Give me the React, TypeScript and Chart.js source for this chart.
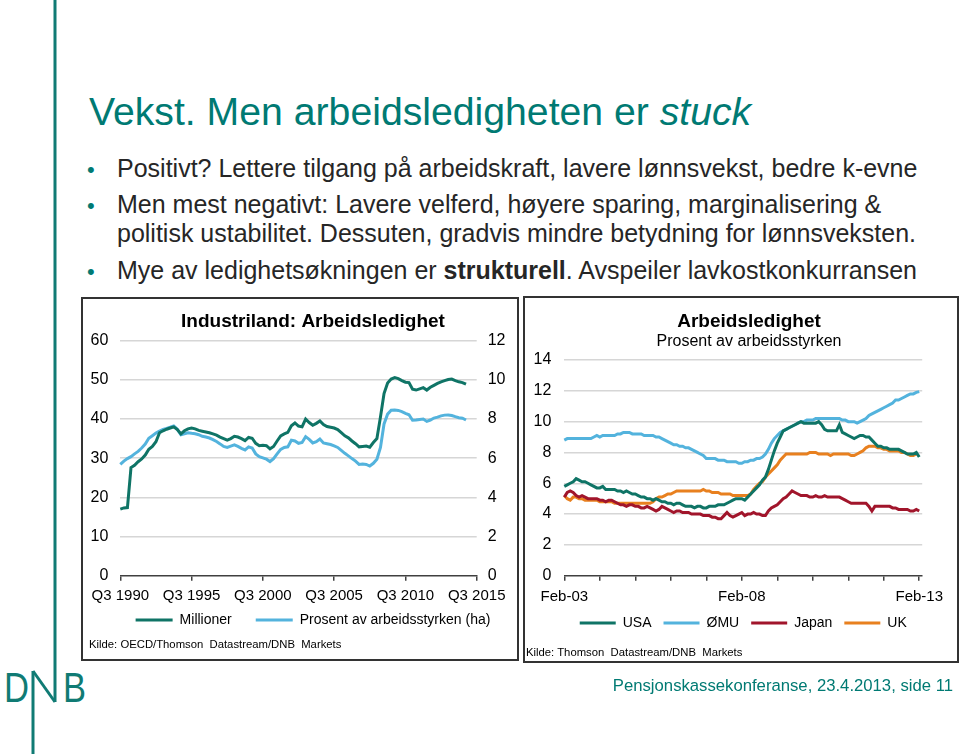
import React, { useEffect, useRef } from 'react';
import { Chart, registerables } from 'chart.js';

Chart.register(...registerables);

const FONT = "'Liberation Sans', Arial, Helvetica, sans-serif";
Chart.defaults.font.family = FONT;

const TEAL = '#0f7466';
const BLUE = '#53b3dd';
const RED = '#a1152b';
const ORANGE = '#e8801f';
const GRID = '#d6d6d6';
const AXIS = '#404040';
const SLIDE_TEAL = '#007a73';

// ---------- Left chart data ----------
const LEFT_TITLE = 'Industriland: Arbeidsledighet';
const LEFT_SERIES_NAMES = ['Millioner', 'Prosent av arbeidsstyrken (ha)'];
const LEFT_TICK_LABELS = ['Q3 1990', 'Q3 1995', 'Q3 2000', 'Q3 2005', 'Q3 2010', 'Q3 2015'];
// Millions unemployed, quarterly from Q3 1990
const MILLIONER = [
  17.0, 17.3, 17.4, 27.6, 28.2, 29.1, 29.8, 30.8, 32.3, 33.0,
  34.2, 36.5, 37.0, 37.4, 37.7, 38.0, 37.3, 36.2, 37.0, 37.5,
  37.7, 37.5, 37.1, 36.9, 36.7, 36.5, 36.2, 35.9, 35.4, 35.0,
  34.6, 35.0, 35.6, 35.4, 35.0, 34.5, 35.3, 35.1, 33.8, 33.2,
  33.3, 33.2, 32.4, 33.0, 34.4, 35.7, 36.2, 36.6, 38.3, 39.0,
  38.2, 38.0, 40.0, 39.1, 38.4, 38.9, 39.5, 38.6, 38.1, 37.9,
  37.7, 37.3, 36.5, 35.7, 35.2, 34.4, 33.7, 32.9, 33.0, 33.1,
  32.8, 34.0, 35.0, 40.5, 46.5, 49.2, 50.2, 50.6, 50.3, 49.8,
  49.4, 49.3, 47.6, 47.4, 47.7, 48.0, 47.4, 48.1, 48.6, 49.1,
  49.5, 49.8, 50.1, 50.2, 49.8, 49.5, 49.3, 48.9,
];
// Percent of labour force (right axis)
const PROSENT = [
  5.68, 5.85, 5.98, 6.08, 6.22, 6.35, 6.52, 6.72, 7.02, 7.15,
  7.28, 7.38, 7.47, 7.52, 7.58, 7.65, 7.48, 7.20, 7.25, 7.30,
  7.27, 7.25, 7.20, 7.12, 7.08, 7.03, 6.95, 6.85, 6.73, 6.60,
  6.55, 6.62, 6.68, 6.60, 6.50, 6.42, 6.58, 6.52, 6.22, 6.08,
  6.02, 5.95, 5.83, 5.98, 6.22, 6.45, 6.55, 6.58, 6.92, 6.88,
  6.76, 6.80, 7.10, 6.96, 6.78, 6.84, 6.98, 6.78, 6.74, 6.70,
  6.63, 6.55, 6.40, 6.25, 6.12, 5.98, 5.85, 5.68, 5.70, 5.68,
  5.60, 5.74, 5.95, 6.55, 7.75, 8.25, 8.45, 8.46, 8.44, 8.38,
  8.29, 8.22, 7.94, 7.95, 7.98, 8.00, 7.88, 7.95, 8.05, 8.10,
  8.16, 8.20, 8.21, 8.18, 8.12, 8.07, 8.04, 7.95,
];

// ---------- Right chart data ----------
const RIGHT_TITLE = 'Arbeidsledighet';
const RIGHT_SUBTITLE = 'Prosent av arbeidsstyrken';
const RIGHT_SERIES_NAMES = ['USA', 'ØMU', 'Japan', 'UK'];
const RIGHT_TICK_LABELS = ['Feb-03', 'Feb-08', 'Feb-13'];
const USA = [
  5.8, 5.9, 6.0, 6.1, 6.3, 6.2, 6.1, 6.1, 6.0, 5.9,
  5.8, 5.7, 5.7, 5.8, 5.6, 5.6, 5.6, 5.6, 5.5, 5.5,
  5.4, 5.5, 5.4, 5.3, 5.3, 5.2, 5.1, 5.1, 5.0, 5.0,
  4.9, 5.0, 4.9, 4.8, 4.8, 4.7, 4.7, 4.6, 4.7, 4.7,
  4.6, 4.5, 4.5, 4.5, 4.4, 4.5, 4.5, 4.4, 4.4, 4.5,
  4.5, 4.5, 4.6, 4.6, 4.6, 4.7, 4.8, 4.9, 5.0, 5.0,
  5.0, 4.9, 5.1, 5.3, 5.5, 5.7, 5.9, 6.2, 6.4, 6.9,
  7.5, 8.1, 8.6, 9.0, 9.4, 9.5, 9.6, 9.7, 9.8, 9.9,
  10.0, 9.9, 9.9, 9.9, 9.9, 9.9, 10.0, 9.8, 9.5, 9.4,
  9.4, 9.4, 9.4, 9.8, 9.3, 9.2, 9.1, 9.0, 8.9, 9.0,
  9.1, 9.1, 9.0, 9.0, 8.8, 8.6, 8.4, 8.4, 8.3, 8.3,
  8.2, 8.2, 8.2, 8.2, 8.1, 8.0, 7.9, 7.9, 7.9, 8.0,
  7.7,
];
const OMU = [
  8.8, 8.9, 8.9, 8.9, 8.9, 8.9, 8.9, 8.9, 8.9, 8.9,
  9.0, 9.1, 9.0, 9.1, 9.1, 9.1, 9.1, 9.1, 9.2, 9.2,
  9.3, 9.3, 9.3, 9.2, 9.2, 9.2, 9.2, 9.1, 9.1, 9.1,
  9.1, 9.0, 9.0, 8.9, 8.8, 8.7, 8.6, 8.5, 8.5, 8.4,
  8.4, 8.3, 8.3, 8.2, 8.1, 8.0, 7.9, 7.8, 7.6, 7.6,
  7.6, 7.6, 7.5, 7.5, 7.5, 7.4, 7.4, 7.4, 7.4, 7.3,
  7.3, 7.4, 7.4, 7.5, 7.5, 7.6, 7.6, 7.7, 7.9, 8.2,
  8.6, 8.9, 9.1, 9.3, 9.4, 9.5, 9.6, 9.7, 9.8, 9.9,
  10.0, 10.0, 10.1, 10.1, 10.1, 10.2, 10.2, 10.2, 10.2, 10.2,
  10.2, 10.2, 10.2, 10.2, 10.1, 10.1, 10.0, 10.0, 10.0, 9.9,
  10.0, 10.1, 10.2, 10.4, 10.5, 10.6, 10.7, 10.8, 10.9, 11.0,
  11.1, 11.2, 11.4, 11.4, 11.5, 11.6, 11.7, 11.8, 11.8, 11.9,
  11.95,
];
const JAPAN = [
  5.1, 5.4, 5.5, 5.4, 5.2, 5.1, 5.2, 5.1, 5.0, 5.0,
  5.0, 5.0, 4.9, 4.9, 4.8, 4.9, 4.9, 4.8, 4.7, 4.6,
  4.6, 4.5, 4.6, 4.6, 4.5, 4.5, 4.4, 4.4, 4.5, 4.4,
  4.3, 4.2, 4.3, 4.5, 4.4, 4.3, 4.2, 4.1, 4.2, 4.2,
  4.1, 4.1, 4.1, 4.0, 4.0, 4.0, 4.0, 3.9, 3.9, 3.9,
  3.8, 3.8, 3.7, 3.7, 3.9, 4.1, 3.9, 3.8, 3.9, 4.0,
  4.1, 3.9, 4.0, 4.0, 4.1, 4.0, 4.0, 3.9, 3.9, 4.2,
  4.4, 4.5, 4.6, 4.8, 5.0, 5.1, 5.3, 5.5, 5.4, 5.3,
  5.2, 5.2, 5.2, 5.1, 5.1, 5.2, 5.1, 5.1, 5.2, 5.1,
  5.1, 5.1, 5.1, 5.1, 5.0, 4.9, 4.8, 4.7, 4.7, 4.7,
  4.7, 4.7, 4.7, 4.5, 4.2, 4.5, 4.5, 4.5, 4.5, 4.5,
  4.5, 4.4, 4.4, 4.3, 4.3, 4.3, 4.3, 4.2, 4.2, 4.3,
  4.2,
];
const UK = [
  5.2, 5.0, 4.9, 5.1, 5.1, 5.0, 5.0, 4.9, 4.9, 4.9,
  4.9, 4.9, 4.8, 4.8, 4.8, 4.8, 4.8, 4.7, 4.7, 4.7,
  4.7, 4.7, 4.7, 4.7, 4.7, 4.7, 4.7, 4.7, 4.7, 4.7,
  4.8, 5.0, 5.1, 5.1, 5.2, 5.3, 5.3, 5.4, 5.5, 5.5,
  5.5, 5.5, 5.5, 5.5, 5.5, 5.5, 5.5, 5.6, 5.5, 5.5,
  5.4, 5.4, 5.4, 5.3, 5.3, 5.3, 5.3, 5.2, 5.2, 5.2,
  5.2, 5.2, 5.2, 5.3, 5.6, 5.8, 6.0, 6.1, 6.4, 6.6,
  6.8, 7.0, 7.2, 7.5, 7.7, 7.9, 7.9, 7.9, 7.9, 7.9,
  7.9, 7.9, 7.9, 8.0, 8.0, 8.0, 7.9, 7.9, 7.9, 7.9,
  7.8, 7.9, 7.9, 7.9, 7.9, 7.9, 7.9, 7.8, 7.8, 7.9,
  8.0, 8.1, 8.3, 8.4, 8.4, 8.4, 8.3, 8.3, 8.2, 8.2,
  8.1, 8.1, 8.1, 8.1, 8.0, 8.0, 7.9, 7.8, 7.8, 7.9,
];

// Category labels
const QUARTERS: string[] = [];
for (let i = 0; i <= 100; i++) {
  const t = 1990 * 4 + 2 + i;
  QUARTERS.push(`Q${(t % 4) + 1} ${Math.floor(t / 4)}`);
}
const MONTH_NAMES = ['Jan', 'Feb', 'Mar', 'Apr', 'May', 'Jun', 'Jul', 'Aug', 'Sep', 'Oct', 'Nov', 'Dec'];
const MONTHS: string[] = [];
for (let i = 0; i <= 121; i++) {
  const m = 1 + i;
  const yy = 3 + Math.floor(m / 12);
  MONTHS.push(`${MONTH_NAMES[m % 12]}-${String(yy).padStart(2, '0')}`);
}

const legendLabels = (chart: any) =>
  Chart.defaults.plugins.legend.labels.generateLabels(chart).map((l: any) => ({
    ...l,
    fillStyle: l.strokeStyle,
    lineWidth: 0,
  }));

const lineDs = (label: string, data: (number | null)[], color: string, axis: string) => ({
  label,
  data,
  borderColor: color,
  backgroundColor: color,
  borderWidth: 3,
  pointRadius: 0,
  tension: 0,
  yAxisID: axis,
});

function LeftChart() {
  const ref = useRef<HTMLCanvasElement>(null);
  useEffect(() => {
    const chart = new Chart(ref.current as HTMLCanvasElement, {
      type: 'line',
      data: {
        labels: QUARTERS,
        datasets: [
          lineDs(LEFT_SERIES_NAMES[0], MILLIONER, TEAL, 'y'),
          lineDs(LEFT_SERIES_NAMES[1], PROSENT, BLUE, 'y1'),
        ],
      },
      options: {
        responsive: false,
        animation: false,
        events: [],
        layout: { padding: { left: 0, right: 0, top: 0, bottom: 22 } },
        plugins: {
          title: {
            display: true,
            text: LEFT_TITLE,
            color: '#000',
            font: { size: 19, weight: 'bold', lineHeight: 1 },
            padding: { top: 13.5, bottom: 9.2 },
          },
          legend: {
            position: 'bottom',
            fullSize: true,
            labels: {
              boxWidth: 37,
              boxHeight: 3,
              padding: 24,
              color: '#000',
              font: { size: 14 },
              generateLabels: legendLabels,
            },
          },
          tooltip: { enabled: false },
        },
        scales: {
          x: {
            type: 'category',
            offset: false,
            grid: {
              display: true,
              drawOnChartArea: false,
              drawTicks: true,
              tickLength: 5,
              lineWidth: 1.5,
              color: (c: any) => (c.index % 20 === 0 ? AXIS : 'rgba(0,0,0,0)'),
            },
            border: { display: true, color: AXIS, width: 1.5 },
            ticks: {
              autoSkip: false,
              maxRotation: 0,
              minRotation: 0,
              mirror: true,
              padding: -29.3,
              color: '#000',
              font: { size: 15 },
              callback: (_v: any, i: number) => (i % 20 === 0 ? LEFT_TICK_LABELS[i / 20] : ''),
            },
            afterFit: (s: any) => {
              s.height = 13.3;
            },
          },
          y: {
            position: 'left',
            min: 0,
            max: 60,
            ticks: { stepSize: 10, padding: 12, color: '#000', font: { size: 16 } },
            grid: {
              drawTicks: false,
              lineWidth: 1.5,
              color: (c: any) => (c.tick && c.tick.value === 0 ? 'rgba(0,0,0,0)' : GRID),
            },
            border: { display: false },
            afterFit: (s: any) => {
              s.width = 37.3;
            },
          },
          y1: {
            position: 'right',
            min: 0,
            max: 12,
            ticks: { stepSize: 2, padding: 11, color: '#000', font: { size: 16 } },
            grid: { display: false, drawOnChartArea: false, drawTicks: false },
            border: { display: false },
            afterFit: (s: any) => {
              s.width = 66.3;
            },
          },
        },
      } as any,
    });
    return () => chart.destroy();
  }, []);
  return (
    <canvas
      ref={ref}
      width={460}
      height={360}
      style={{ position: 'absolute', left: 83, top: 299, width: 460, height: 360 }}
    />
  );
}

function RightChart() {
  const ref = useRef<HTMLCanvasElement>(null);
  useEffect(() => {
    const chart = new Chart(ref.current as HTMLCanvasElement, {
      type: 'line',
      data: {
        labels: MONTHS,
        datasets: [
          lineDs(RIGHT_SERIES_NAMES[0], USA, TEAL, 'y'),
          lineDs(RIGHT_SERIES_NAMES[1], OMU, BLUE, 'y'),
          lineDs(RIGHT_SERIES_NAMES[2], JAPAN, RED, 'y'),
          lineDs(RIGHT_SERIES_NAMES[3], UK, ORANGE, 'y'),
        ],
      },
      options: {
        responsive: false,
        animation: false,
        events: [],
        layout: { padding: { left: 6, right: 0, top: 0, bottom: 21 } },
        plugins: {
          title: {
            display: true,
            text: RIGHT_TITLE,
            color: '#000',
            font: { size: 19, weight: 'bold', lineHeight: 1 },
            padding: { top: 14.5, bottom: 0 },
          },
          subtitle: {
            display: true,
            text: RIGHT_SUBTITLE,
            color: '#000',
            font: { size: 16, lineHeight: 1 },
            padding: { top: 2.5, bottom: 10 },
          },
          legend: {
            position: 'bottom',
            fullSize: false,
            labels: {
              boxWidth: 36,
              boxHeight: 3,
              padding: 12,
              color: '#000',
              font: { size: 14 },
              generateLabels: legendLabels,
            },
          },
          tooltip: { enabled: false },
        },
        scales: {
          x: {
            type: 'category',
            offset: false,
            grid: {
              display: true,
              drawOnChartArea: false,
              drawTicks: true,
              tickLength: 5,
              lineWidth: 1.5,
              color: (c: any) => (c.index % 12 === 0 && c.index <= 120 ? AXIS : 'rgba(0,0,0,0)'),
            },
            border: { display: true, color: AXIS, width: 1.5 },
            ticks: {
              autoSkip: false,
              maxRotation: 0,
              minRotation: 0,
              padding: 7.3,
              color: '#000',
              font: { size: 15 },
              callback: (_v: any, i: number) => (i % 60 === 0 ? RIGHT_TICK_LABELS[i / 60] : ''),
            },
            afterFit: (s: any) => {
              s.height = 28.3;
            },
          },
          y: {
            position: 'left',
            min: 0,
            max: 14,
            ticks: { stepSize: 2, padding: 13, color: '#000', font: { size: 16 } },
            grid: {
              drawTicks: false,
              lineWidth: 1.5,
              color: (c: any) => (c.tick && c.tick.value === 0 ? 'rgba(0,0,0,0)' : GRID),
            },
            border: { display: false },
            afterFit: (s: any) => {
              s.width = 33.3;
            },
          },
          yr: {
            type: 'linear',
            position: 'right',
            min: 0,
            max: 1,
            ticks: { display: false },
            grid: { display: false, drawTicks: false },
            border: { display: false },
            afterFit: (s: any) => {
              s.width = 44.8;
            },
          },
        },
      } as any,
    });
    return () => chart.destroy();
  }, []);
  return (
    <canvas
      ref={ref}
      width={442}
      height={363}
      style={{ position: 'absolute', left: 525, top: 298, width: 442, height: 363 }}
    />
  );
}

const abs = (o: React.CSSProperties): React.CSSProperties => ({ position: 'absolute', whiteSpace: 'pre', ...o });

const BULLET_TEXT = '#262626';

export default function App() {
  const bulletStyle = (top: number) =>
    abs({ left: 87, top: top + 1, fontSize: 22, lineHeight: '25px', color: SLIDE_TEAL });
  const lineStyle = (top: number) =>
    abs({ left: 117, top, fontSize: 25, lineHeight: '25px', color: BULLET_TEXT });
  return (
    <div
      style={{
        position: 'absolute',
        left: 0,
        top: 0,
        width: 960,
        height: 754,
        background: '#fff',
        overflow: 'hidden',
        fontFamily: FONT,
      }}
    >
      <svg width={100} height={754} style={{ position: 'absolute', left: 0, top: 0 }}>
        <line x1={55} y1={0} x2={55} y2={702} stroke="#107b74" strokeWidth={3} />
        <line x1={33} y1={671} x2={55} y2={702} stroke="#107b74" strokeWidth={3} />
        <line x1={33} y1={671} x2={33} y2={754} stroke="#107b74" strokeWidth={3} />
        <text x={4} y={702} fontSize={42} fill="#107b74" textLength={25} lengthAdjust="spacingAndGlyphs" fontFamily={FONT}>
          D
        </text>
        <text x={63} y={702} fontSize={42} fill="#107b74" textLength={23} lengthAdjust="spacingAndGlyphs" fontFamily={FONT}>
          B
        </text>
      </svg>

      <div style={abs({ left: 89, top: 92, fontSize: 39.2, lineHeight: '39px', color: SLIDE_TEAL })}>
        Vekst. Men arbeidsledigheten er <i>stuck</i>
      </div>

      <div style={bulletStyle(155.5)}>•</div>
      <div style={lineStyle(155.5)}>Positivt? Lettere tilgang på arbeidskraft, lavere lønnsvekst, bedre k-evne</div>
      <div style={bulletStyle(192)}>•</div>
      <div style={lineStyle(192)}>Men mest negativt: Lavere velferd, høyere sparing, marginalisering &amp;</div>
      <div style={lineStyle(221)}>politisk ustabilitet. Dessuten, gradvis mindre betydning for lønnsveksten.</div>
      <div style={bulletStyle(258)}>•</div>
      <div style={lineStyle(258)}>
        Mye av ledighetsøkningen er <b>strukturell</b>. Avspeiler lavkostkonkurransen
      </div>

      <div style={{ position: 'absolute', left: 81, top: 297, width: 434, height: 360, border: '2px solid #333' }} />
      <div style={{ position: 'absolute', left: 523, top: 296, width: 432, height: 363, border: '2px solid #333' }} />

      <LeftChart />
      <RightChart />

      <div style={abs({ left: 89, top: 638, fontSize: 11.3, lineHeight: '13px', color: '#000' })}>
        {'Kilde: OECD/Thomson  Datastream/DNB  Markets'}
      </div>
      <div style={abs({ left: 526, top: 646, fontSize: 11.3, lineHeight: '13px', color: '#000' })}>
        {'Kilde: Thomson  Datastream/DNB  Markets'}
      </div>

      <div style={abs({ right: 7, top: 677, fontSize: 16.7, lineHeight: '17px', color: SLIDE_TEAL })}>
        Pensjonskassekonferanse, 23.4.2013, side 11
      </div>
    </div>
  );
}
